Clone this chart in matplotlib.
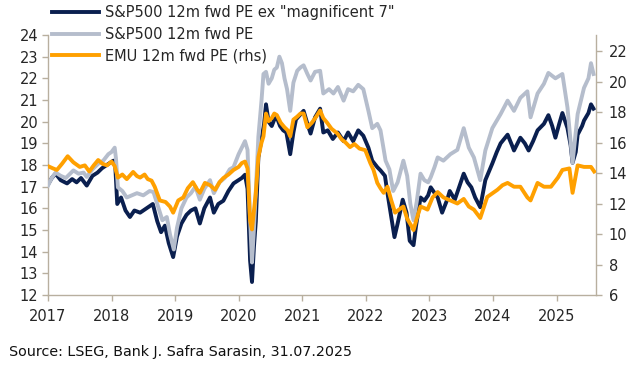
import matplotlib
matplotlib.use("Agg")
import matplotlib.pyplot as plt
import matplotlib.dates as mdates
import numpy as np
from datetime import datetime

# ---------------- data (decimal year, value) ----------------
ex_mag7_t = [2017.00, 2017.06, 2017.12, 2017.20, 2017.30, 2017.38, 2017.45, 2017.52, 2017.61, 2017.70,
             2017.78, 2017.85, 2017.95, 2018.03, 2018.06, 2018.09, 2018.15, 2018.22, 2018.29, 2018.36,
             2018.45, 2018.55, 2018.65, 2018.72, 2018.78, 2018.84, 2018.90, 2018.97, 2019.03, 2019.10,
             2019.18, 2019.25, 2019.32, 2019.39, 2019.46, 2019.55, 2019.61, 2019.68, 2019.76, 2019.84,
             2019.92, 2020.00, 2020.05, 2020.10, 2020.14, 2020.18, 2020.21, 2020.24, 2020.27, 2020.31,
             2020.36, 2020.40, 2020.43, 2020.47, 2020.52, 2020.56, 2020.60, 2020.65, 2020.70, 2020.75,
             2020.81, 2020.86, 2020.90, 2020.96, 2021.02, 2021.08, 2021.13, 2021.20, 2021.28, 2021.33,
             2021.40, 2021.48, 2021.56, 2021.65, 2021.72, 2021.80, 2021.88, 2021.96, 2022.04, 2022.10,
             2022.18, 2022.23, 2022.30, 2022.34, 2022.40, 2022.45, 2022.50, 2022.58, 2022.64, 2022.69,
             2022.75, 2022.79, 2022.86, 2022.92, 2022.98, 2023.02, 2023.13, 2023.20, 2023.28, 2023.32,
             2023.40, 2023.47, 2023.54, 2023.60, 2023.66, 2023.72, 2023.80, 2023.88, 2023.99, 2024.06,
             2024.12, 2024.23, 2024.30, 2024.33, 2024.43, 2024.50, 2024.56, 2024.63, 2024.70, 2024.80,
             2024.87, 2024.93, 2024.98, 2025.04, 2025.09, 2025.17, 2025.22, 2025.25, 2025.30, 2025.33,
             2025.40, 2025.43, 2025.50, 2025.54, 2025.58]
ex_mag7_v = [17.1, 17.4, 17.6, 17.3, 17.15, 17.35, 17.2, 17.4, 17.05, 17.5,
             17.65, 17.85, 18.05, 18.2, 17.9, 16.2, 16.5, 15.9, 15.6, 15.9,
             15.8, 16.0, 16.2, 15.4, 14.9, 15.2, 14.4, 13.75, 14.7, 15.3,
             15.7, 15.9, 16.0, 15.3, 16.0, 16.5, 15.8, 16.2, 16.35, 16.8,
             17.15, 17.3, 17.4, 17.55, 16.9, 13.6, 12.6, 14.2, 15.4, 18.35,
             19.2, 19.9, 20.8, 20.0, 19.8, 20.1, 20.2, 19.8, 19.6, 19.5,
             18.5, 19.5, 20.1, 20.3, 20.5, 19.9, 19.45, 20.2, 20.6, 19.5,
             19.6, 19.2, 19.5, 19.1, 19.5, 19.1, 19.6, 19.35, 18.8, 18.2,
             17.9, 17.75, 17.5, 16.7, 15.6, 14.67, 15.3, 16.4, 15.8, 14.5,
             14.3, 15.2, 16.5, 16.35, 16.6, 16.97, 16.5, 15.8, 16.4, 16.8,
             16.4, 17.0, 17.6, 17.2, 16.97, 16.5, 16.05, 17.3, 18.07, 18.6,
             19.0, 19.4, 18.9, 18.67, 19.26, 19.0, 18.67, 19.1, 19.6, 19.9,
             20.3, 19.8, 19.26, 19.9, 20.4, 19.7, 18.9, 18.1, 18.6, 19.4,
             19.8, 20.05, 20.4, 20.8, 20.6]

spx_t = [2017.00, 2017.06, 2017.12, 2017.20, 2017.28, 2017.40, 2017.48, 2017.56, 2017.61, 2017.70,
         2017.79, 2017.87, 2017.95, 2018.00, 2018.05, 2018.07, 2018.10, 2018.17, 2018.24, 2018.32,
         2018.40, 2018.50, 2018.60, 2018.66, 2018.72, 2018.80, 2018.87, 2018.92, 2018.98, 2019.03,
         2019.10, 2019.18, 2019.25, 2019.32, 2019.39, 2019.46, 2019.55, 2019.61, 2019.70, 2019.78,
         2019.86, 2019.92, 2020.00, 2020.05, 2020.10, 2020.14, 2020.18, 2020.21, 2020.24, 2020.27,
         2020.31, 2020.36, 2020.39, 2020.43, 2020.47, 2020.52, 2020.56, 2020.60, 2020.64, 2020.68,
         2020.72, 2020.76, 2020.81, 2020.86, 2020.92, 2020.97, 2021.02, 2021.08, 2021.13, 2021.20,
         2021.28, 2021.33, 2021.42, 2021.49, 2021.56, 2021.65, 2021.72, 2021.80, 2021.88, 2021.96,
         2022.04, 2022.10, 2022.18, 2022.23, 2022.31, 2022.37, 2022.43, 2022.50, 2022.59, 2022.65,
         2022.70, 2022.75, 2022.80, 2022.86, 2022.92, 2022.98, 2023.02, 2023.08, 2023.13, 2023.22,
         2023.33, 2023.44, 2023.54, 2023.62, 2023.70, 2023.80, 2023.88, 2023.99, 2024.12, 2024.23,
         2024.33, 2024.43, 2024.54, 2024.59, 2024.70, 2024.80, 2024.87, 2024.98, 2025.09, 2025.17,
         2025.25, 2025.33, 2025.43, 2025.50, 2025.54, 2025.58]
spx_v = [17.05, 17.4, 17.65, 17.5, 17.4, 17.75, 17.6, 17.65, 17.45, 17.8,
         18.05, 18.2, 18.5, 18.6, 18.8, 18.3, 16.97, 16.8, 16.5, 16.6,
         16.7, 16.6, 16.8, 16.75, 16.2, 15.45, 15.6, 14.8, 14.1, 15.1,
         16.0, 16.5, 16.7, 17.0, 16.4, 16.9, 17.3, 16.7, 17.2, 17.4,
         17.8, 17.9, 18.5, 18.8, 19.1, 18.7, 15.5, 13.5, 15.0, 16.8,
         19.3, 21.0, 22.2, 22.3, 21.75, 22.0, 22.4, 22.5, 23.0, 22.7,
         22.0, 21.5, 20.5, 21.8, 22.35, 22.5, 22.6, 22.2, 21.9, 22.3,
         22.35, 21.3, 21.5, 21.3, 21.6, 20.97, 21.5, 21.4, 21.7, 21.5,
         20.5, 19.7, 19.9, 19.6, 18.2, 17.8, 16.8, 17.2, 18.2, 17.5,
         16.2, 15.45, 16.3, 17.6, 17.3, 17.2, 17.43, 17.9, 18.35, 18.2,
         18.5, 18.7, 19.7, 18.8, 18.35, 17.3, 18.67, 19.7, 20.35, 20.97,
         20.5, 21.1, 21.4, 20.2, 21.3, 21.75, 22.25, 22.0, 22.2, 20.65,
         18.1, 20.35, 21.56, 22.0, 22.7, 22.2]

emu_t = [2017.00, 2017.08, 2017.14, 2017.22, 2017.31, 2017.40, 2017.50, 2017.58, 2017.65, 2017.72,
         2017.79, 2017.86, 2017.93, 2018.00, 2018.05, 2018.10, 2018.17, 2018.24, 2018.34, 2018.40,
         2018.45, 2018.52, 2018.57, 2018.63, 2018.68, 2018.76, 2018.85, 2018.92, 2018.97, 2019.05,
         2019.13, 2019.20, 2019.28, 2019.35, 2019.39, 2019.47, 2019.55, 2019.63, 2019.70, 2019.76,
         2019.84, 2019.92, 2020.00, 2020.05, 2020.10, 2020.14, 2020.18, 2020.21, 2020.24, 2020.27,
         2020.31, 2020.36, 2020.39, 2020.43, 2020.47, 2020.52, 2020.56, 2020.60, 2020.66, 2020.72,
         2020.77, 2020.81, 2020.86, 2020.92, 2020.97, 2021.02, 2021.08, 2021.15, 2021.22, 2021.28,
         2021.33, 2021.39, 2021.46, 2021.55, 2021.62, 2021.68, 2021.75, 2021.82, 2021.90, 2021.99,
         2022.07, 2022.12, 2022.18, 2022.23, 2022.28, 2022.34, 2022.40, 2022.46, 2022.52, 2022.59,
         2022.65, 2022.72, 2022.75, 2022.80, 2022.86, 2022.92, 2022.97, 2023.05, 2023.13, 2023.22,
         2023.33, 2023.44, 2023.54, 2023.62, 2023.70, 2023.80, 2023.91, 2024.07, 2024.15, 2024.23,
         2024.33, 2024.43, 2024.54, 2024.59, 2024.70, 2024.80, 2024.91, 2025.02, 2025.09, 2025.20,
         2025.25, 2025.33, 2025.43, 2025.54, 2025.59]
emu_v = [14.45, 14.3, 14.2, 14.6, 15.1, 14.7, 14.4, 14.5, 14.1, 14.5,
         14.85, 14.6, 14.5, 14.75, 14.45, 13.7, 13.9, 13.6, 14.07, 13.8,
         13.7, 13.9, 13.6, 13.5, 13.1, 12.2, 12.1, 11.8, 11.4, 12.2,
         12.4, 13.0, 13.4, 12.9, 12.7, 13.35, 13.2, 12.9, 13.4, 13.67,
         13.9, 14.2, 14.4, 14.65, 14.75, 14.3, 10.9, 10.3, 11.5, 12.7,
         15.05, 16.0, 16.4, 17.9, 17.4, 17.6, 17.9, 17.8, 17.3, 17.0,
         16.8, 16.4, 17.5, 17.7, 17.9, 17.9, 17.0, 17.3, 17.7, 18.1,
         17.6, 17.3, 16.9, 16.6, 16.2, 16.0, 15.7, 15.9, 15.6, 15.5,
         14.65, 14.2, 13.35, 13.0, 12.7, 13.1, 12.2, 11.4, 11.6, 11.8,
         11.0, 10.5, 10.26, 11.0, 11.8, 11.7, 11.6, 12.4, 12.75, 12.4,
         12.2, 12.0, 12.3, 11.8, 11.6, 11.05, 12.43, 12.9, 13.2, 13.35,
         13.1, 13.1, 12.4, 12.2, 13.35, 13.1, 13.1, 13.7, 14.2, 14.3,
         12.7, 14.5, 14.4, 14.4, 14.1]

labels = ['S&P500 12m fwd PE ex "magnificent 7"', "S&P500 12m fwd PE", "EMU 12m fwd PE (rhs)"]
left_ticks = list(range(12, 25))
right_ticks = list(range(6, 23, 2))
years = list(range(2017, 2026))
source = "Source: LSEG, Bank J. Safra Sarasin, 31.07.2025"


def to_dt(y):
    yr = int(np.floor(y))
    start = datetime(yr, 1, 1)
    end = datetime(yr + 1, 1, 1)
    return start + (end - start) * (y - yr)


plt.rcParams["font.family"] = ["DejaVu Sans"]
NAVY = "#0a1f4f"
GREY = "#b5bdcc"
ORANGE = "#ffa000"
SPINE = "#b8af9f"
TXT = "#262626"

fig = plt.figure(figsize=(6.44, 3.70), dpi=100)
ax = fig.add_axes([0.0745, 0.2027, 0.851, 0.7027])
ax2 = ax.twinx()

lw = 2.8
l_navy, = ax.plot([to_dt(t) for t in ex_mag7_t], ex_mag7_v, color=NAVY, lw=lw, zorder=2)
l_grey, = ax.plot([to_dt(t) for t in spx_t], spx_v, color=GREY, lw=lw, zorder=3)
l_or, = ax2.plot([to_dt(t) for t in emu_t], emu_v, color=ORANGE, lw=lw, zorder=4)

ax.set_ylim(12, 24)
ax2.set_ylim(6, 23.05)
ax.set_xlim(datetime(2017, 1, 1), datetime(2025, 8, 15))
ax.set_yticks(left_ticks)
ax2.set_yticks(right_ticks)
ax.set_xticks([datetime(y, 1, 1) for y in years])
ax.xaxis.set_major_formatter(mdates.DateFormatter("%Y"))

for a in (ax, ax2):
    for s in a.spines.values():
        s.set_color(SPINE)
        s.set_linewidth(1.0)
    a.spines["top"].set_visible(False)
    a.tick_params(colors=SPINE, labelcolor=TXT, labelsize=10.5, length=4, width=1.0)
ax.spines["right"].set_visible(False)
ax2.spines["left"].set_visible(False)
ax2.spines["bottom"].set_visible(False)
ax.tick_params(axis="x", pad=6)
ax.tick_params(axis="y", pad=3)
ax2.tick_params(axis="y", pad=5)

fig.legend([l_navy, l_grey, l_or], labels, loc="upper left",
           bbox_to_anchor=(0.072, 1.001), frameon=False, fontsize=10.5,
           handlelength=3.2, handletextpad=0.45, labelspacing=0.45,
           labelcolor=TXT, borderaxespad=0)

fig.text(0.014, 0.048, source, fontsize=10.3, color="#111111", ha="left", va="center")

fig.savefig("out.png", dpi=100)
